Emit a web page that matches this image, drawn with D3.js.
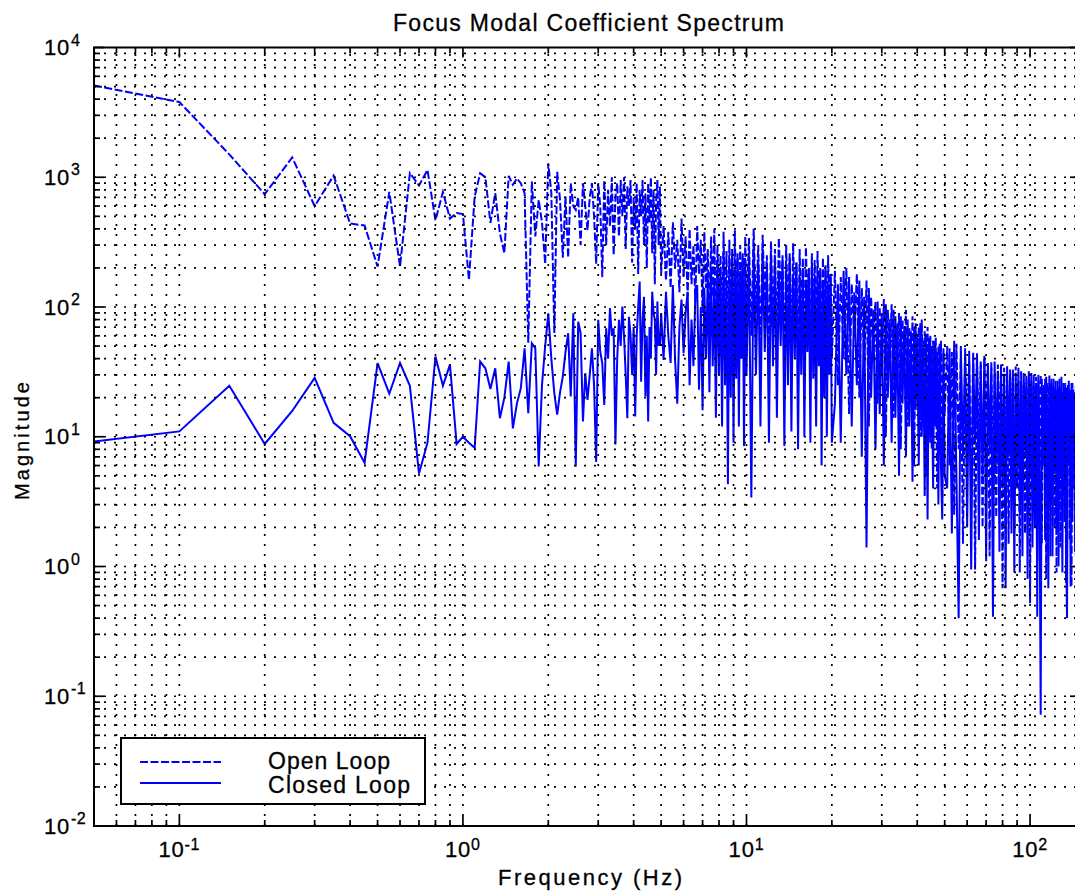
<!DOCTYPE html>
<html>
<head>
<meta charset="utf-8">
<title>Focus Modal Coefficient Spectrum</title>
<script src="https://cdn.jsdelivr.net/npm/d3@7/dist/d3.min.js"></script>
<style>
  html, body { margin: 0; padding: 0; background: #fff; }
  svg { display: block; }
  text { font-family: "Liberation Sans", Arial, Helvetica, sans-serif; fill: #000; stroke: #000; stroke-width: 0.3px; }
</style>
</head>
<body>
<div id="chart"></div>
<script>
// frequency grid (Hz) - full resolution at the low end, thinner above 5 Hz
var freqLow   = d3.range(1, 101).map(function(k){ return k / 20; });  // 0.05 .. 5.0
var freqMid1  = d3.range(51, 101).map(function(k){ return k / 10; }); // 5.1 .. 10.0
var freqMid2  = d3.range(51, 101).map(function(k){ return k / 5; });  // 10.2 .. 20.0
var freqHigh1 = d3.range(41, 101).map(function(k){ return k / 2; });  // 20.5 .. 50
var freqHigh2 = d3.range(51, 151);                                     // 51 .. 150

// open loop magnitude
var openLow = [5100, 3800, 1500, 740, 1420, 600, 1030, 440, 425, 205,
  770, 205, 1075, 865, 1140, 465, 770, 480, 530, 520,
  162, 710, 1075, 1000, 445, 755, 370, 260, 1025, 875,
  980, 900, 755, 53, 925, 350, 670, 450, 215, 1280,
  755, 63, 1100, 670, 240, 710, 240, 900, 600, 560,
  700, 300, 900, 600, 390, 700, 900, 500, 215, 900,
  600, 170, 950, 300, 800, 420, 1000, 250, 700, 900,
  350, 950, 500, 1000, 280, 850, 600, 950, 220, 700,
  400, 900, 180, 800, 500, 950, 300, 750, 200, 900,
  450, 1000, 260, 800, 150, 650, 950, 300, 850, 180];
var openMid1 = [420, 160, 380, 140, 450, 200, 330, 130, 480, 170,
  350, 120, 400, 150, 300, 110, 420, 180, 330, 90,
  380, 140, 280, 70, 350, 120, 400, 60, 300, 110,
  250, 45, 380, 90, 270, 35, 330, 80, 220, 50,
  390, 70, 260, 40, 300, 100, 240, 55, 350, 75];
var openMid2 = [340, 60, 400, 90, 300, 45, 360, 110, 250, 35,
  320, 70, 280, 50, 340, 120, 230, 30, 300, 80,
  260, 40, 310, 95, 220, 25, 280, 60, 240, 45,
  290, 100, 200, 30, 260, 70, 230, 40, 270, 90,
  190, 28, 240, 60, 210, 35, 250, 80, 180, 40];
var openHigh1 = [190, 25, 170, 40, 200, 15, 150, 60, 180, 20,
  140, 35, 160, 12, 120, 45, 110, 18, 100, 30,
  115, 10, 95, 40, 105, 14, 85, 25, 90, 8,
  80, 30, 95, 12, 70, 20, 85, 6, 75, 22,
  70, 10, 80, 15, 65, 5, 70, 18, 60, 8,
  55, 25, 58, 4, 50, 12, 55, 3, 45, 15];
var openHigh2 = [50, 6, 45, 2.5, 52, 8, 40, 1.5, 48, 10,
  38, 3, 45, 0.95, 42, 7, 36, 2, 40, 12,
  35, 1.2, 38, 5, 30, 2.4, 36, 9, 32, 0.68,
  34, 6, 28, 1.5, 33, 10, 30, 2, 35, 4,
  27, 0.9, 32, 8, 26, 1.8, 30, 5, 28, 0.52,
  31, 7, 25, 2.5, 29, 1.1, 27, 6, 30, 1.5,
  24, 9, 28, 0.8, 26, 4, 30, 1.2, 25, 7,
  28, 2, 23, 0.9, 27, 5, 24, 1.4, 29, 8,
  22, 2.2, 26, 0.75, 24, 6, 27, 1.6, 23, 0.7,
  26, 4, 22, 1.3, 25, 9, 21, 2, 24, 5];

// closed loop magnitude
var closedLow = [9.2, 11, 24.7, 8.8, 15.8, 28.4, 12.8, 10.1, 6.3, 37,
  21.5, 37, 24.7, 5.2, 9, 41.5, 24.7, 36, 8.8, 10,
  9, 8.2, 38, 33.7, 23.3, 33.7, 13.9, 20, 38, 11.6,
  18, 23.7, 48, 15.2, 52.6, 48, 5.9, 25, 50, 89.5,
  40, 21.7, 14.8, 22, 29, 45, 62.8, 20.4, 89.5, 5.9,
  77, 62.8, 13.1, 30.9, 19.2, 30, 48, 25, 6.4, 79.6,
  45, 36.9, 17.6, 68.7, 40, 98, 60, 68.7, 8.7, 40,
  79.6, 50, 101, 59, 30, 13.9, 84, 61, 30, 70,
  14.3, 60, 100, 157, 26.6, 80, 120, 20.4, 60, 13.1,
  70, 40, 131, 90, 79.6, 30, 110, 51, 51, 90];
var closedMid1 = [39, 131, 60, 37, 148, 39, 18, 70, 114, 44,
  90, 131, 25, 80, 35, 120, 148, 23, 100, 16,
  140, 40, 170, 22, 200, 35, 160, 14, 230, 30,
  180, 12, 260, 25, 150, 4.3, 220, 20, 280, 9,
  200, 28, 240, 12, 190, 40, 260, 8.5, 220, 30];
var closedMid2 = [250, 3.4, 300, 30, 220, 12, 280, 45, 200, 9,
  260, 35, 230, 14, 190, 50, 250, 8.5, 210, 25,
  240, 11, 180, 40, 220, 8, 170, 30, 200, 10,
  150, 45, 190, 9, 210, 28, 160, 12, 180, 35,
  200, 6, 150, 20, 190, 10, 140, 30, 170, 9];
var closedHigh1 = [18, 150, 9, 190, 30, 170, 12, 130, 25, 160,
  7, 120, 1.4, 140, 20, 95, 8, 110, 15, 90,
  6, 105, 20, 80, 9, 95, 14, 75, 5, 85,
  18, 70, 7, 80, 12, 65, 4.5, 70, 16, 60,
  6, 75, 10, 55, 3.5, 62, 2.3, 58, 9, 50,
  4, 55, 12, 45, 3, 52, 6, 2.3, 48, 5];
var closedHigh2 = [4, 48, 1.8, 55, 5, 0.4, 50, 7, 42, 2,
  46, 0.95, 40, 9, 44, 1.6, 38, 5, 42, 1.1,
  37, 8, 34, 0.41, 38, 6, 32, 1.3, 36, 4,
  30, 0.68, 35, 7, 29, 1.8, 33, 0.9, 28, 6,
  34, 2.5, 27, 1.2, 31, 8, 26, 0.8, 32, 5,
  27, 1.4, 30, 2, 25, 0.41, 30, 4, 0.072, 28,
  6, 25, 1.6, 29, 9, 0.68, 26, 3, 28, 1.2,
  24, 6, 27, 2, 23, 1, 28, 5, 22, 0.9,
  26, 3.5, 24, 1.5, 0.4, 25, 7, 22, 0.7, 26,
  2.2, 23, 6, 21, 1.2, 25, 4, 22, 0.8, 24];

// axes
var xMajorTicks = [0.1, 1, 10, 100];
var yMajorTicks = [0.01, 0.1, 1, 10, 100, 1000, 10000];
var seriesNames = ["Open Loop", "Closed Loop"];

var w = 1075, h = 892;
var plotLeft = 94, plotRight = 1080, plotTop = 47.5, plotBottom = 826;
var blue = "#0000ff";

var freq = freqLow.concat(freqMid1, freqMid2, freqHigh1, freqHigh2);
var openLoop = openLow.concat(openMid1, openMid2, openHigh1, openHigh2);
var closedLoop = closedLow.concat(closedMid1, closedMid2, closedHigh1, closedHigh2);

var x = d3.scaleLog().domain([0.05, 150]).range([plotLeft, plotRight]);
var y = d3.scaleLog().domain([0.01, 10000]).range([plotBottom, plotTop]);

var svg = d3.select("#chart").append("svg")
  .attr("width", w)
  .attr("height", h);

svg.append("defs").append("clipPath").attr("id", "plotclip")
  .append("rect")
  .attr("x", plotLeft).attr("y", plotTop)
  .attr("width", plotRight - plotLeft).attr("height", plotBottom - plotTop);

// data lines
var line = d3.line()
  .x(function(d){ return x(d[0]); })
  .y(function(d){ return y(d[1]); });

var lines = svg.append("g").attr("clip-path", "url(#plotclip)");

lines.append("path")
  .datum(d3.zip(freq, openLoop))
  .attr("d", line)
  .attr("fill", "none")
  .attr("stroke", blue)
  .attr("stroke-width", 2)
  .attr("stroke-dasharray", "8,2.5");

lines.append("path")
  .datum(d3.zip(freq, closedLoop))
  .attr("d", line)
  .attr("fill", "none")
  .attr("stroke", blue)
  .attr("stroke-width", 2);

// dotted grid, major and minor (drawn over the data like the original)
function isMajor(v) {
  var l = Math.log10(v);
  return Math.abs(l - Math.round(l)) < 1e-6;
}
var xGrid = x.ticks();
var yGrid = y.ticks();
var grid = svg.append("g")
  .attr("stroke", "#000")
  .attr("stroke-width", 1.7)
  .attr("stroke-dasharray", "2,8");

grid.selectAll("line.v")
  .data(xGrid.filter(function(v){ return x(v) > plotLeft + 1; }))
  .enter().append("line")
  .attr("x1", function(v){ return x(v); })
  .attr("x2", function(v){ return x(v); })
  .attr("y1", plotBottom)
  .attr("y2", plotTop);

grid.selectAll("line.h")
  .data(yGrid.filter(function(v){ return y(v) > plotTop + 1 && y(v) < plotBottom - 1; }))
  .enter().append("line")
  .attr("x1", plotLeft)
  .attr("x2", plotRight)
  .attr("y1", function(v){ return y(v); })
  .attr("y2", function(v){ return y(v); });

// inward ticks on all four sides
var ticks = svg.append("g").attr("stroke", "#000").attr("stroke-width", 1.7);
xGrid.forEach(function(v){
  var len = isMajor(v) ? 10 : 6;
  ticks.append("line").attr("x1", x(v)).attr("x2", x(v))
    .attr("y1", plotBottom).attr("y2", plotBottom - len);
  ticks.append("line").attr("x1", x(v)).attr("x2", x(v))
    .attr("y1", plotTop).attr("y2", plotTop + len);
});
yGrid.forEach(function(v){
  var len = isMajor(v) ? 10 : 6;
  ticks.append("line").attr("y1", y(v)).attr("y2", y(v))
    .attr("x1", plotLeft).attr("x2", plotLeft + len);
  ticks.append("line").attr("y1", y(v)).attr("y2", y(v))
    .attr("x1", plotRight).attr("x2", plotRight - len);
});

// axes box
svg.append("rect")
  .attr("x", plotLeft).attr("y", plotTop)
  .attr("width", plotRight - plotLeft).attr("height", plotBottom - plotTop)
  .attr("fill", "none")
  .attr("stroke", "#000")
  .attr("stroke-width", 2);

// tick labels 10^n
var xLab = svg.selectAll("text.xlab")
  .data(xMajorTicks)
  .enter().append("text")
  .attr("x", function(v){ return x(v); })
  .attr("y", 857)
  .attr("text-anchor", "middle")
  .style("font-size", "22px")
  .style("letter-spacing", "0.8px");
xLab.append("tspan").text("10");
xLab.append("tspan")
  .attr("dy", -7)
  .style("font-size", "16px")
  .text(function(v){ return String(Math.round(Math.log10(v))); });

yMajorTicks.forEach(function(v){
  svg.append("text")
    .attr("x", 70)
    .attr("y", y(v) + 7.5)
    .attr("text-anchor", "end")
    .style("font-size", "22px")
    .style("letter-spacing", "0.8px")
    .text("10");
  svg.append("text")
    .attr("x", 71)
    .attr("y", y(v) - 2)
    .style("font-size", "16px")
    .style("letter-spacing", "0.5px")
    .text(String(Math.round(Math.log10(v))));
});

// title and axis labels
svg.append("text")
  .attr("x", 393).attr("y", 31)
  .attr("textLength", 391).attr("lengthAdjust", "spacing")
  .style("font-size", "23px")
  .text("Focus Modal Coefficient Spectrum");

svg.append("text")
  .attr("x", 498).attr("y", 885)
  .attr("textLength", 184).attr("lengthAdjust", "spacing")
  .style("font-size", "22px")
  .text("Frequency (Hz)");

svg.append("text")
  .attr("transform", "translate(29,500) rotate(-90)")
  .attr("textLength", 118).attr("lengthAdjust", "spacing")
  .style("font-size", "20px")
  .text("Magnitude");

// legend
var legend = svg.append("g");
legend.append("rect")
  .attr("x", 121).attr("y", 738)
  .attr("width", 304).attr("height", 66)
  .attr("fill", "#fff")
  .attr("stroke", "#000")
  .attr("stroke-width", 2);

var legRows = [
  { y: 762, ty: 768.5, len: 122, dash: "8,2.5" },
  { y: 783, ty: 793, len: 142, dash: null }
];
legRows.forEach(function(r, i){
  legend.append("line")
    .attr("x1", 140).attr("x2", 221)
    .attr("y1", r.y).attr("y2", r.y)
    .attr("stroke", blue)
    .attr("stroke-width", 2)
    .attr("stroke-dasharray", r.dash);
  legend.append("text")
    .attr("x", 268).attr("y", r.ty)
    .attr("textLength", r.len).attr("lengthAdjust", "spacing")
    .style("font-size", "23px")
    .text(seriesNames[i]);
});
</script>
</body>
</html>
